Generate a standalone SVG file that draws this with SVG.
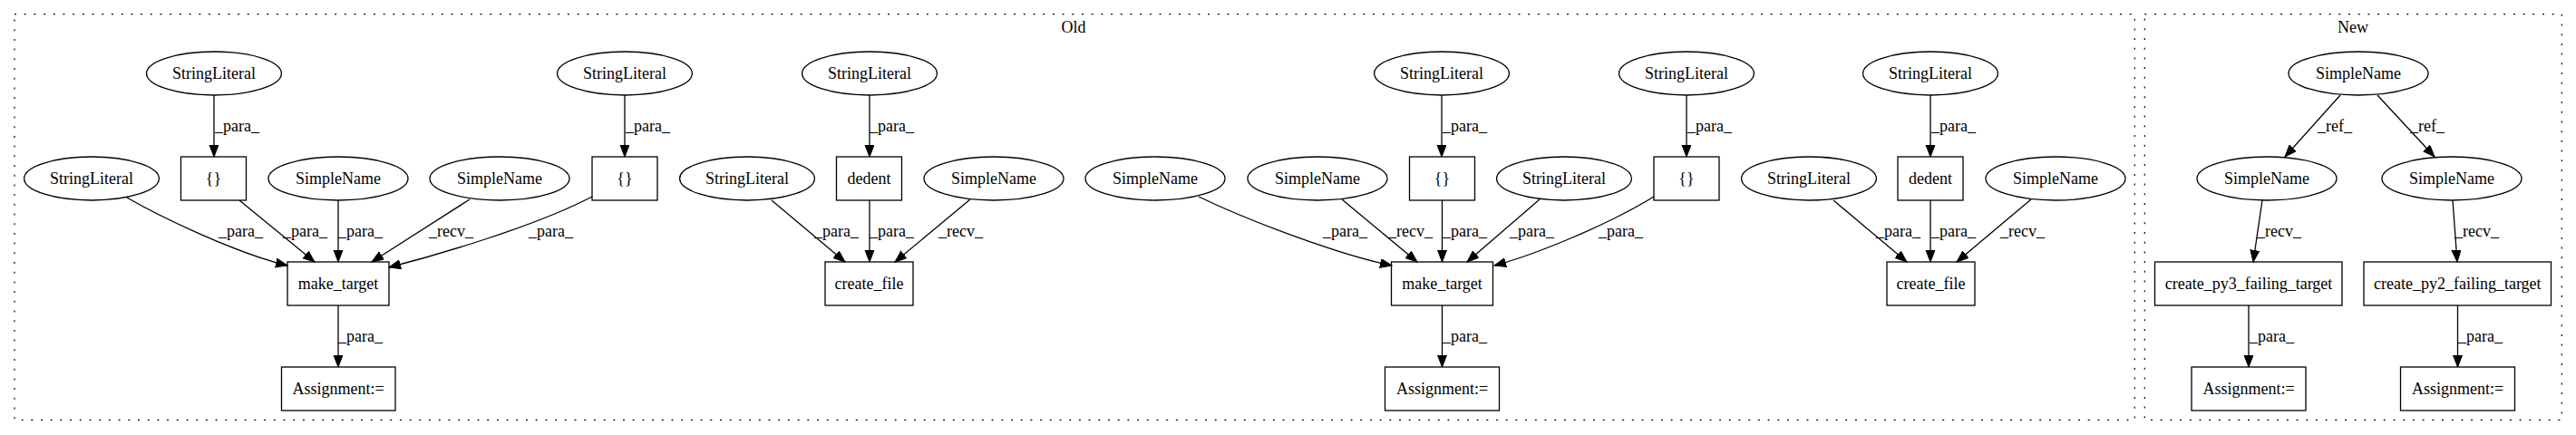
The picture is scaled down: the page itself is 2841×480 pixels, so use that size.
<svg xmlns="http://www.w3.org/2000/svg" width="2841" height="480" viewBox="0 0 2841 480">
<style>
text{font-family:"Liberation Serif","Times New Roman",serif;font-size:18px;fill:#000}
.n text{text-anchor:middle}
.n ellipse,.n rect{fill:none;stroke:#000;stroke-width:1.3}
.c{fill:none;stroke:#000;stroke-width:1.2;stroke-dasharray:2,8.7}
.e path{fill:none;stroke:#000;stroke-width:1.3;marker-end:url(#a)}
.cl{text-anchor:middle}
</style>
<defs>
<marker id="a" markerUnits="userSpaceOnUse" markerWidth="14" markerHeight="12" refX="13" refY="5" orient="auto">
<path d="M0,0 L13,5 L0,10 z" fill="#000" stroke="#000" stroke-width="1"/>
</marker>
</defs>
<rect width="2841" height="480" fill="#fff"/>
<g id="cluster-old"><rect class="c" x="16" y="15.7" width="2338.3" height="447.6"/><text class="cl" x="1184" y="36">Old</text></g>
<g id="cluster-new"><rect class="c" x="2365.3" y="15.7" width="460" height="447.6"/><text class="cl" x="2595" y="36">New</text></g>

<g class="e" id="edges">
<path d="M236,105 L236,173"/>
<path d="M140,218 C178,240 262,280 317,293"/>
<path d="M264,221 L347,289"/>
<path d="M373,221 L373,289"/>
<path d="M518,220 L410,289"/>
<path d="M653,217 C590,250 480,282 429,295"/>
<path d="M689,105 L689,173"/>
<path d="M373,337 L373,405"/>
<path d="M959,105 L959,173"/>
<path d="M851,221 L932,289"/>
<path d="M959,221 L959,289"/>
<path d="M1070,220 L987,289"/>
<path d="M1322,217 C1380,245 1480,282 1535,293"/>
<path d="M1480,220 L1563,289"/>
<path d="M1590.5,221 L1590.5,289"/>
<path d="M1590,105 L1590,173"/>
<path d="M1698,220 L1618,289"/>
<path d="M1860,105 L1860,173"/>
<path d="M1824,217 C1770,250 1690,282 1648,293"/>
<path d="M1590.5,337 L1590.5,405"/>
<path d="M2129,105 L2129,173"/>
<path d="M2022,221 L2103,289"/>
<path d="M2129,221 L2129,289"/>
<path d="M2240,220 L2158,289"/>
<path d="M2581,105 L2520,173"/>
<path d="M2622,105 L2685,173"/>
<path d="M2495,221 L2485,289"/>
<path d="M2705,221 L2710,289"/>
<path d="M2480,337 L2480,405"/>
<path d="M2710.5,337 L2710.5,405"/>
<text x="237" y="145">_para_</text>
<text x="241" y="261">_para_</text>
<text x="312" y="261">_para_</text>
<text x="373" y="261">_para_</text>
<text x="473" y="261">_recv_</text>
<text x="583" y="261">_para_</text>
<text x="690" y="145">_para_</text>
<text x="373" y="377">_para_</text>
<text x="959" y="145">_para_</text>
<text x="898" y="261">_para_</text>
<text x="959" y="261">_para_</text>
<text x="1035" y="261">_recv_</text>
<text x="1459" y="261">_para_</text>
<text x="1531" y="261">_recv_</text>
<text x="1591" y="261">_para_</text>
<text x="1591" y="145">_para_</text>
<text x="1665" y="261">_para_</text>
<text x="1861" y="145">_para_</text>
<text x="1763" y="261">_para_</text>
<text x="1591" y="377">_para_</text>
<text x="2130" y="145">_para_</text>
<text x="2069" y="261">_para_</text>
<text x="2130" y="261">_para_</text>
<text x="2206" y="261">_recv_</text>
<text x="2556" y="145">_ref_</text>
<text x="2658" y="145">_ref_</text>
<text x="2489" y="261">_recv_</text>
<text x="2707" y="261">_recv_</text>
<text x="2481" y="377">_para_</text>
<text x="2711" y="377">_para_</text>
</g>

<g class="n" id="n1"><ellipse cx="236" cy="81" rx="74.4" ry="24"/><text x="236" y="87">StringLiteral</text></g>
<g class="n" id="n2"><rect x="199.5" y="173" width="72" height="48"/><text x="235.5" y="203">{}</text></g>
<g class="n" id="n3"><ellipse cx="101" cy="197" rx="74.4" ry="24"/><text x="101" y="203">StringLiteral</text></g>
<g class="n" id="n4"><ellipse cx="373" cy="197" rx="77" ry="24"/><text x="373" y="203">SimpleName</text></g>
<g class="n" id="n5"><ellipse cx="551" cy="197" rx="77" ry="24"/><text x="551" y="203">SimpleName</text></g>
<g class="n" id="n6"><ellipse cx="689" cy="81" rx="74.4" ry="24"/><text x="689" y="87">StringLiteral</text></g>
<g class="n" id="n7"><rect x="653" y="173" width="72" height="48"/><text x="689" y="203">{}</text></g>
<g class="n" id="n8"><rect x="317" y="289" width="112" height="48"/><text x="373" y="319">make_target</text></g>
<g class="n" id="n9"><rect x="310.5" y="405" width="125.5" height="48"/><text x="373" y="435">Assignment:=</text></g>

<g class="n" id="n10"><ellipse cx="959" cy="81" rx="74.4" ry="24"/><text x="959" y="87">StringLiteral</text></g>
<g class="n" id="n11"><rect x="922.5" y="173" width="72" height="48"/><text x="958.5" y="203">dedent</text></g>
<g class="n" id="n12"><ellipse cx="824" cy="197" rx="74.4" ry="24"/><text x="824" y="203">StringLiteral</text></g>
<g class="n" id="n13"><ellipse cx="1096" cy="197" rx="77" ry="24"/><text x="1096" y="203">SimpleName</text></g>
<g class="n" id="n14"><rect x="910" y="289" width="97" height="48"/><text x="958.5" y="319">create_file</text></g>

<g class="n" id="n15"><ellipse cx="1274" cy="197" rx="77" ry="24"/><text x="1274" y="203">SimpleName</text></g>
<g class="n" id="n16"><ellipse cx="1453" cy="197" rx="77" ry="24"/><text x="1453" y="203">SimpleName</text></g>
<g class="n" id="n17"><ellipse cx="1590" cy="81" rx="74.4" ry="24"/><text x="1590" y="87">StringLiteral</text></g>
<g class="n" id="n18"><rect x="1554.5" y="173" width="72" height="48"/><text x="1590.5" y="203">{}</text></g>
<g class="n" id="n19"><ellipse cx="1725" cy="197" rx="74.4" ry="24"/><text x="1725" y="203">StringLiteral</text></g>
<g class="n" id="n20"><ellipse cx="1860" cy="81" rx="74.4" ry="24"/><text x="1860" y="87">StringLiteral</text></g>
<g class="n" id="n21"><rect x="1824" y="173" width="72" height="48"/><text x="1860" y="203">{}</text></g>
<g class="n" id="n22"><rect x="1534.5" y="289" width="112" height="48"/><text x="1590.5" y="319">make_target</text></g>
<g class="n" id="n23"><rect x="1527.5" y="405" width="126" height="48"/><text x="1590.5" y="435">Assignment:=</text></g>

<g class="n" id="n24"><ellipse cx="2129" cy="81" rx="74.4" ry="24"/><text x="2129" y="87">StringLiteral</text></g>
<g class="n" id="n25"><rect x="2093" y="173" width="72" height="48"/><text x="2129" y="203">dedent</text></g>
<g class="n" id="n26"><ellipse cx="1995" cy="197" rx="74.4" ry="24"/><text x="1995" y="203">StringLiteral</text></g>
<g class="n" id="n27"><ellipse cx="2267" cy="197" rx="77" ry="24"/><text x="2267" y="203">SimpleName</text></g>
<g class="n" id="n28"><rect x="2081" y="289" width="97" height="48"/><text x="2129.5" y="319">create_file</text></g>

<g class="n" id="n29"><ellipse cx="2601" cy="81" rx="77" ry="24"/><text x="2601" y="87">SimpleName</text></g>
<g class="n" id="n30"><ellipse cx="2500" cy="197" rx="77" ry="24"/><text x="2500" y="203">SimpleName</text></g>
<g class="n" id="n31"><ellipse cx="2704" cy="197" rx="77" ry="24"/><text x="2704" y="203">SimpleName</text></g>
<g class="n" id="n32"><rect x="2376.5" y="289" width="206.5" height="48"/><text x="2480" y="319">create_py3_failing_target</text></g>
<g class="n" id="n33"><rect x="2607" y="289" width="206.5" height="48"/><text x="2710.3" y="319">create_py2_failing_target</text></g>
<g class="n" id="n34"><rect x="2417" y="405" width="126" height="48"/><text x="2480" y="435">Assignment:=</text></g>
<g class="n" id="n35"><rect x="2647.5" y="405" width="126" height="48"/><text x="2710.5" y="435">Assignment:=</text></g>
</svg>
